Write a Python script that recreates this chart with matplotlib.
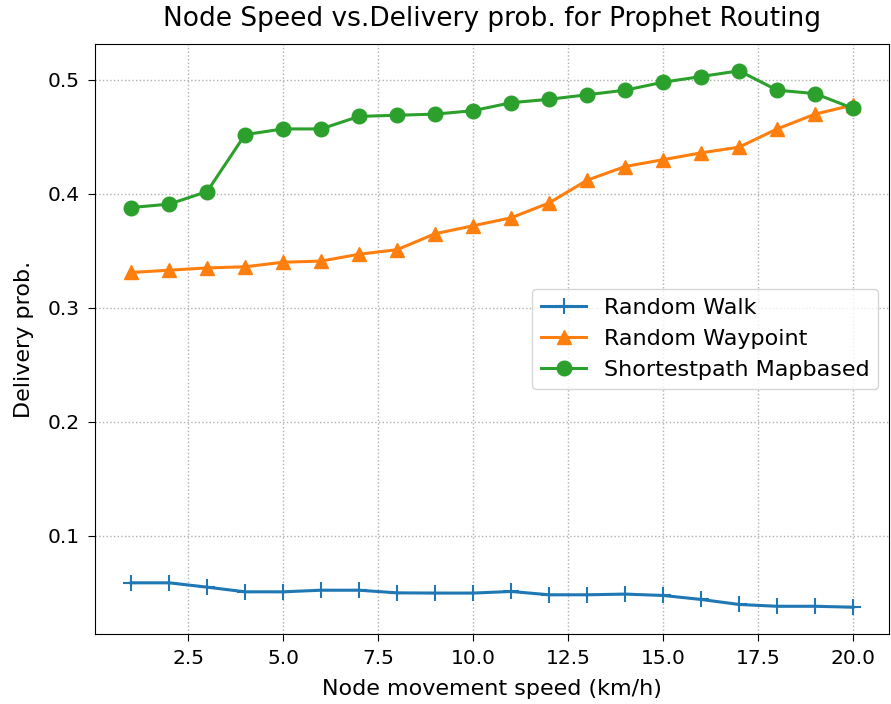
import matplotlib
matplotlib.use("Agg")
import matplotlib.pyplot as plt

speed = list(range(1, 21))
random_walk = [0.0586, 0.0586, 0.0548, 0.0507, 0.0507, 0.0521, 0.0521, 0.0498, 0.0496, 0.0496,
               0.0510, 0.0481, 0.0481, 0.0487, 0.0475, 0.0440, 0.0396, 0.0380, 0.0380, 0.0372]
random_waypoint = [0.331, 0.333, 0.335, 0.336, 0.340, 0.341, 0.347, 0.351, 0.365, 0.372,
                   0.379, 0.392, 0.412, 0.424, 0.430, 0.436, 0.441, 0.457, 0.470, 0.478]
shortest_path = [0.388, 0.391, 0.402, 0.452, 0.457, 0.457, 0.468, 0.469, 0.470, 0.473,
                 0.480, 0.483, 0.487, 0.491, 0.498, 0.503, 0.508, 0.491, 0.488, 0.475]

plt.rcParams['font.size'] = 14.5
fig = plt.figure(figsize=(8.91, 7.04), dpi=100)
ax = fig.add_axes([0.1066, 0.0994, 0.8914, 0.8381])
ax.plot(speed, random_walk, marker='+', markersize=12, markeredgewidth=1.5, linewidth=2.2, label='Random Walk')
ax.plot(speed, random_waypoint, marker='^', markersize=9.5, linewidth=2.2, label='Random Waypoint')
ax.plot(speed, shortest_path, marker='o', markersize=10.5, linewidth=2.2, label='Shortestpath Mapbased')
ax.grid(True, linestyle=':', linewidth=1)
ax.tick_params(labelsize=14.5, length=5, pad=6)
ax.set_xlabel('Node movement speed (km/h)', fontsize=16, labelpad=8)
ax.set_ylabel('Delivery prob.', fontsize=16, labelpad=10)
ax.set_title('Node Speed vs.Delivery prob. for Prophet Routing', fontsize=19, pad=13)
ax.legend(loc='center right', fontsize=16)
fig.savefig('out.png', dpi=100)
